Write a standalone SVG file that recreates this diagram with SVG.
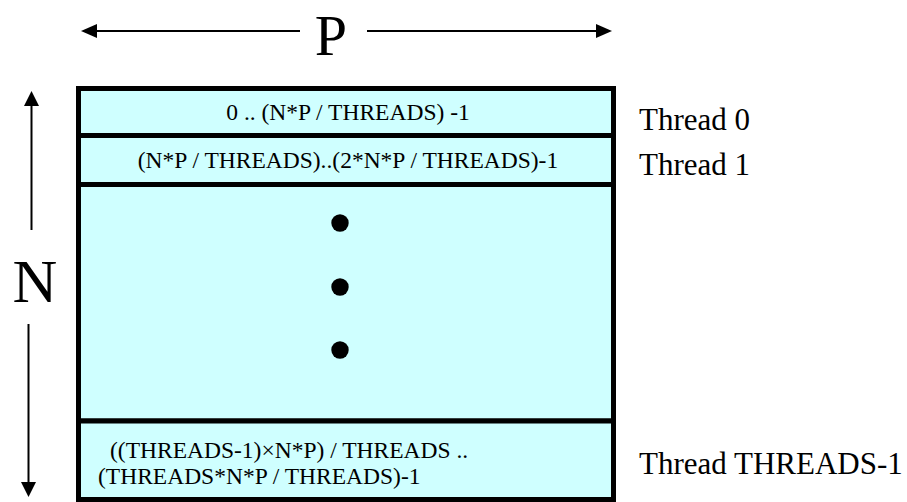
<svg xmlns="http://www.w3.org/2000/svg" width="907" height="502" viewBox="0 0 907 502">
  <style>
    .t { font-family: "Liberation Serif", "Times New Roman", serif; fill: #000; }
    .box { font-size: 23.5px; }
    .lbl { font-size: 31px; }
    .row { fill: #CFFFFF; stroke: #000; stroke-width: 5; }
    .arr { stroke: #000; stroke-width: 2; fill: none; }
    .head { fill: #000; stroke: none; }
  </style>
  <rect width="907" height="502" fill="#fff"/>

  <g id="connectors">
    <!-- horizontal P arrow -->
    <line class="arr" x1="95" y1="31" x2="300" y2="31"/>
    <polygon class="head" points="81,31 97,24 97,38"/>
    <line class="arr" x1="367" y1="31" x2="598" y2="31"/>
    <polygon class="head" points="612,31 596,24 596,38"/>
    <!-- vertical N arrow -->
    <line class="arr" x1="31.5" y1="104" x2="31.5" y2="230"/>
    <polygon class="head" points="31.5,91 24,106 39,106"/>
    <line class="arr" x1="28.5" y1="324" x2="28.5" y2="484"/>
    <polygon class="head" points="28.5,497 21,482 36,482"/>
  </g>

  <g id="label-P"><text class="t" x="331" y="55" font-size="58" text-anchor="middle">P</text></g>
  <g id="label-N"><text class="t" x="35" y="302" font-size="62" text-anchor="middle">N</text></g>

  <g id="row-thread0">
    <rect class="row" x="78.5" y="88.5" width="535" height="47"/>
    <text class="t box" x="348" y="120" text-anchor="middle">0 .. (N*P / THREADS) -1</text>
  </g>
  <g id="row-thread1">
    <rect class="row" x="78.5" y="135.5" width="535" height="49"/>
    <text class="t box" x="348" y="168" text-anchor="middle">(N*P / THREADS)..(2*N*P / THREADS)-1</text>
  </g>
  <g id="row-middle">
    <rect class="row" x="78.5" y="184.5" width="535" height="236.5"/>
    <circle cx="340" cy="223" r="8.7" fill="#000"/>
    <circle cx="340" cy="287" r="8.7" fill="#000"/>
    <circle cx="340" cy="350" r="8.7" fill="#000"/>
  </g>
  <g id="row-last">
    <rect class="row" x="78.5" y="421" width="535" height="78.5"/>
    <text class="t box" x="110" y="458">((THREADS-1)×N*P) / THREADS ..</text>
    <text class="t box" x="98" y="484">(THREADS*N*P / THREADS)-1</text>
  </g>

  <g id="label-thread0"><text class="t lbl" x="639" y="130">Thread 0</text></g>
  <g id="label-thread1"><text class="t lbl" x="639" y="175">Thread 1</text></g>
  <g id="label-threadlast"><text class="t lbl" x="639" y="474">Thread THREADS-1</text></g>
</svg>
